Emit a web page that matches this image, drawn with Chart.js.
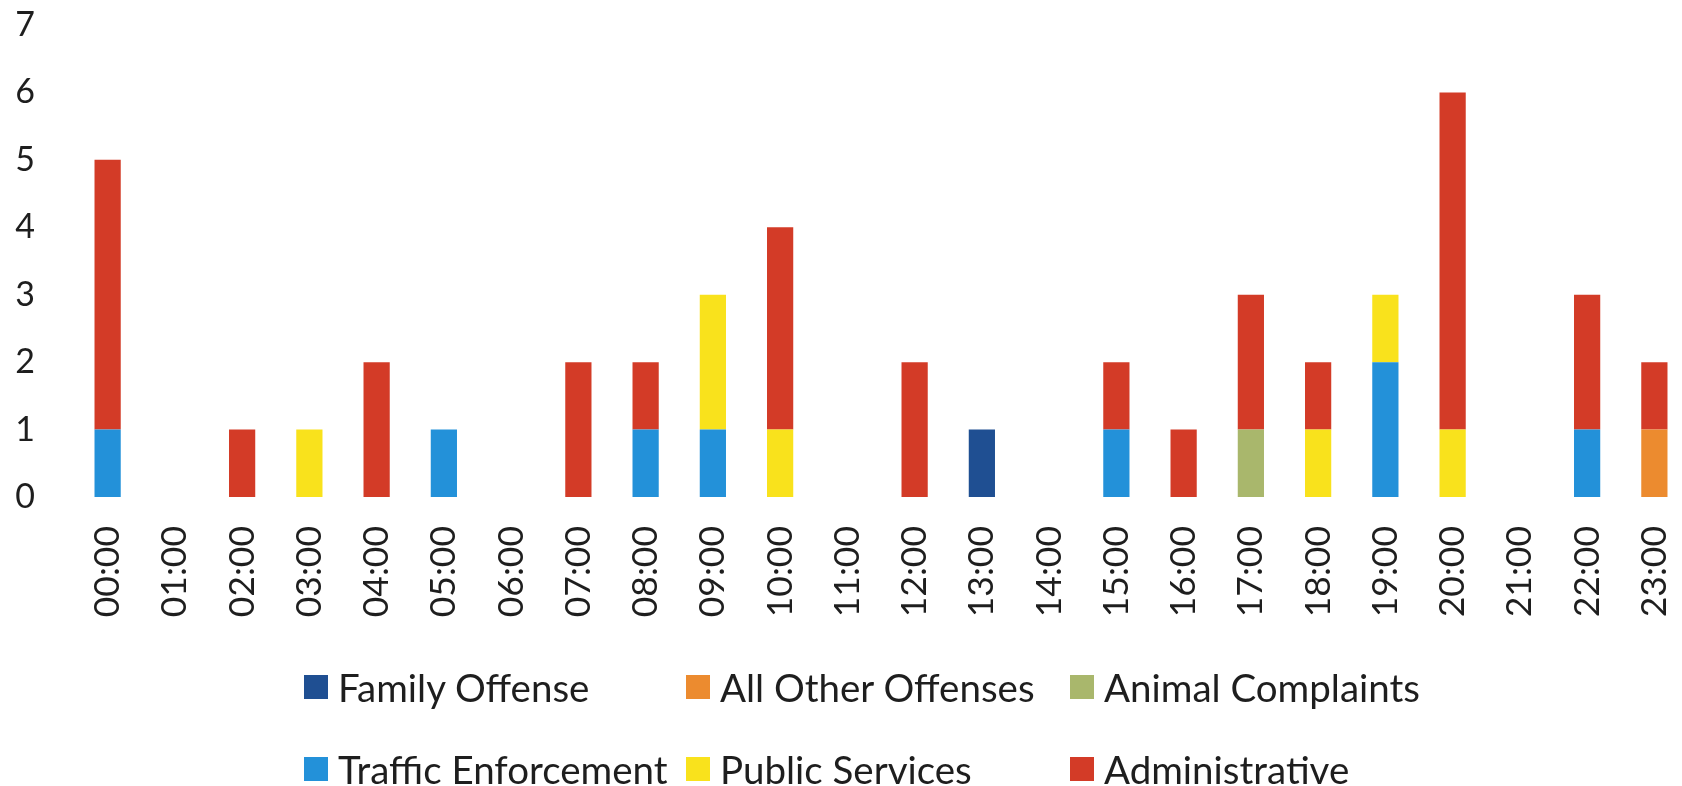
<!DOCTYPE html>
<html>
<head>
<meta charset="utf-8">
<script src="https://cdn.jsdelivr.net/npm/chart.js@4/dist/chart.umd.min.js"></script>
<style>
  html, body { margin: 0; padding: 0; background: #ffffff; overflow: hidden; }
  #wrap { position: relative; width: 1700px; height: 786px; }
  #chart { position: absolute; left: 0; top: 0; }
  #legend {
    position: absolute; left: 304px; top: 662px;
    display: grid; grid-template-columns: 382px 384px 400px;
    grid-auto-rows: 82px;
    font-family: Lato, "Open Sans", sans-serif; font-size: 38.5px; color: #1e1e1e;
  }
  .item { display: flex; align-items: center; height: 50px; white-space: nowrap; }
  .swatch { width: 24px; height: 24px; margin-right: 10px; flex: none; }
</style>
</head>
<body>
<div id="wrap">
  <canvas id="chart" width="1700" height="786"></canvas>
  <div id="legend"></div>
</div>
<script>
// Hourly call counts by incident type
const hours = ["00:00","01:00","02:00","03:00","04:00","05:00","06:00","07:00","08:00","09:00","10:00","11:00",
               "12:00","13:00","14:00","15:00","16:00","17:00","18:00","19:00","20:00","21:00","22:00","23:00"];

const familyOffense      = [0,0,0,0,0,0,0,0,0,0,0,0, 0,1,0,0,0,0,0,0,0,0,0,0];
const allOtherOffenses   = [0,0,0,0,0,0,0,0,0,0,0,0, 0,0,0,0,0,0,0,0,0,0,0,1];
const animalComplaints   = [0,0,0,0,0,0,0,0,0,0,0,0, 0,0,0,0,0,1,0,0,0,0,0,0];
const trafficEnforcement = [1,0,0,0,0,1,0,0,1,1,0,0, 0,0,0,1,0,0,0,2,0,0,1,0];
const publicServices     = [0,0,0,1,0,0,0,0,0,2,1,0, 0,0,0,0,0,0,1,1,1,0,0,0];
const administrative     = [4,0,1,0,2,0,0,2,1,0,3,0, 2,0,0,1,1,2,1,0,5,0,2,1];

const yTicks = [0,1,2,3,4,5,6,7];

const seriesNames  = ["Family Offense","All Other Offenses","Animal Complaints","Traffic Enforcement","Public Services","Administrative"];
const seriesData   = [familyOffense, allOtherOffenses, animalComplaints, trafficEnforcement, publicServices, administrative];
const seriesColors = ["#1f4f92","#ec8b2f","#a9b76c","#2391d9","#f9e21c","#d33b27"];

const fontFamily = "Lato, 'Open Sans', sans-serif";

const chart = new Chart(document.getElementById("chart"), {
  type: "bar",
  data: {
    labels: hours,
    datasets: seriesNames.map((name, i) => ({
      label: name,
      data: seriesData[i],
      backgroundColor: seriesColors[i],
      borderWidth: 0,
      barPercentage: 0.39,
      categoryPercentage: 1.0
    }))
  },
  options: {
    responsive: false,
    animation: false,
    layout: { padding: { left: 0, top: 25, right: 12, bottom: 0 } },
    plugins: {
      legend: { display: false },
      tooltip: { enabled: false }
    },
    scales: {
      x: {
        stacked: true,
        grid: { display: false, drawTicks: false },
        border: { display: false },
        ticks: {
          color: "#1e1e1e", font: { family: fontFamily, size: 35.5 }, padding: 29,
          minRotation: 90, maxRotation: 90, autoSkip: false
        },
        afterFit: (s) => { s.height = 289; s.paddingLeft = 0; s.paddingRight = 0; }
      },
      y: {
        stacked: true,
        min: yTicks[0], max: yTicks[yTicks.length - 1],
        grid: { display: false, drawTicks: false },
        border: { display: false },
        afterBuildTicks: (s) => { s.ticks = yTicks.map(v => ({ value: v })); },
        ticks: { color: "#1e1e1e", font: { family: fontFamily, size: 34 }, padding: 39 },
        afterFit: (s) => { s.width = 74; s.paddingTop = 0; s.paddingBottom = 0; }
      }
    }
  }
});

// Legend laid out in a three-column grid below the axis labels
const legendEl = document.getElementById("legend");
Chart.defaults.plugins.legend.labels.generateLabels(chart).forEach((item) => {
  const row = document.createElement("div");
  row.className = "item";
  const sw = document.createElement("span");
  sw.className = "swatch";
  sw.style.background = item.fillStyle;
  const tx = document.createElement("span");
  tx.textContent = item.text;
  row.appendChild(sw);
  row.appendChild(tx);
  legendEl.appendChild(row);
});
</script>
</body>
</html>
